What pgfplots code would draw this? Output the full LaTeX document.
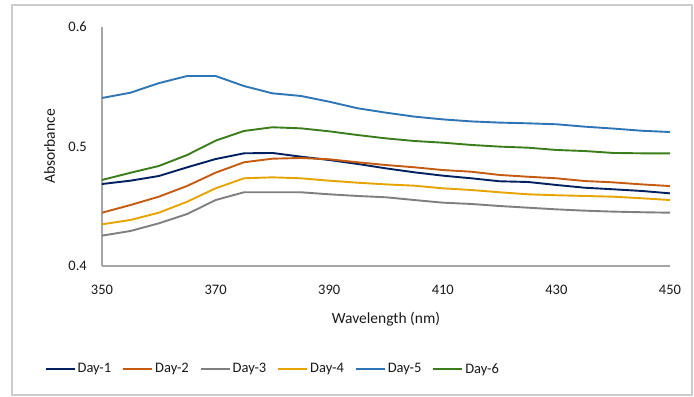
\documentclass[border=0pt]{standalone}
\usepackage{pgfplots}
\pgfplotsset{compat=1.18}
\usepackage{pgfplotstable}
\usepackage{fontspec}
\setmainfont{Carlito}
\definecolor{cA}{HTML}{002060}
\definecolor{cB}{HTML}{C55A11}
\definecolor{cC}{HTML}{7F7F7F}
\definecolor{cD}{HTML}{E5A400}
\definecolor{cE}{HTML}{2E75B6}
\definecolor{cF}{HTML}{3B7D1B}
\definecolor{axgray}{HTML}{A6A6A6}
\pgfplotstableread{
x d1 d2 d3 d4 d5 d6
350 0.4686 0.4446 0.4254 0.4349 0.5406 0.4720
355 0.4714 0.4510 0.4293 0.4385 0.5450 0.4780
360 0.4753 0.4580 0.4357 0.4446 0.5530 0.4837
365 0.4826 0.4670 0.4435 0.4538 0.5590 0.4929
370 0.4895 0.4781 0.4552 0.4650 0.5590 0.5049
375 0.4943 0.4868 0.4617 0.4734 0.5506 0.5130
380 0.4946 0.4898 0.4617 0.4742 0.5445 0.5161
385 0.4915 0.4904 0.4617 0.4734 0.5423 0.5152
390 0.4887 0.4893 0.4600 0.4714 0.5375 0.5127
395 0.4854 0.4868 0.4586 0.4697 0.5320 0.5096
400 0.4817 0.4845 0.4575 0.4683 0.5283 0.5068
405 0.4784 0.4826 0.4552 0.4672 0.5250 0.5046
410 0.4756 0.4803 0.4530 0.4650 0.5227 0.5032
415 0.4734 0.4789 0.4519 0.4636 0.5210 0.5013
420 0.4709 0.4762 0.4502 0.4617 0.5200 0.4999
425 0.4703 0.4747 0.4488 0.4600 0.5194 0.4990
430 0.4678 0.4734 0.4474 0.4592 0.5186 0.4971
435 0.4655 0.4711 0.4463 0.4586 0.5166 0.4962
440 0.4642 0.4700 0.4455 0.4580 0.5150 0.4946
445 0.4628 0.4683 0.4450 0.4567 0.5132 0.4943
450 0.4608 0.4669 0.4446 0.4552 0.5121 0.4943
}\data
\begin{document}
\begin{tikzpicture}
\begin{axis}[
  at={(0,0)}, anchor=south west,
  scale only axis, width=568bp, height=239bp,
  xmin=350, xmax=450, ymin=0.4, ymax=0.6,
  xtick={350,370,...,450}, ytick={0.4,0.5,0.6},
  axis x line=bottom, axis y line=left,
  axis line style={-, axgray, line width=1.1bp},
  major tick length=0pt,
  /pgf/number format/assume math mode=true,
  yticklabel style={/pgf/number format/fixed, /pgf/number format/precision=1},
  every tick label/.append style={font=\fontsize{14.5bp}{17bp}\selectfont, text=black!90},
  xticklabel style={inner sep=0pt, yshift=-19bp},
  yticklabel style={inner sep=0pt, xshift=-15bp},
  xlabel={Wavelength (nm)}, ylabel={Absorbance},
  label style={font=\fontsize{15.5bp}{18bp}\selectfont, text=black!90},
  xlabel style={at={(axis description cs:0.5,0)}, anchor=base, yshift=-57bp, inner sep=0pt},
  ylabel style={at={(axis description cs:0,0.5)}, rotate=0, anchor=base, yshift=47bp, inner sep=0pt},
  legend columns=6,
  legend image code/.code={\draw[#1] (0bp,0bp) -- (29bp,0bp);},
  legend style={draw=none, fill=none, at={(axis description cs:0.299,-0.431)}, anchor=center,
    font=\fontsize{14.5bp}{17bp}\selectfont, text=black!90,
    nodes={inner sep=0pt},
    /tikz/every odd column/.append style={column sep=2bp},
    /tikz/every even column/.append style={column sep=11bp}},
  every axis plot/.append style={line width=1.9bp, line join=round, mark=none},
  clip=false,
]
\addplot[cA] table[x=x,y=d1]{\data}; \addlegendentry{Day-1}
\addplot[cB] table[x=x,y=d2]{\data}; \addlegendentry{Day-2}
\addplot[cC] table[x=x,y=d3]{\data}; \addlegendentry{Day-3}
\addplot[cD] table[x=x,y=d4]{\data}; \addlegendentry{Day-4}
\addplot[cE] table[x=x,y=d5]{\data}; \addlegendentry{Day-5}
\addplot[cF] table[x=x,y=d6]{\data}; \addlegendentry{Day-6}
\end{axis}
\draw[black!20, line width=1.2bp] (-90bp,-129bp) rectangle (590bp,261bp);
\path (-102bp,-131bp) rectangle (592bp,266bp);
\end{tikzpicture}
\end{document}
